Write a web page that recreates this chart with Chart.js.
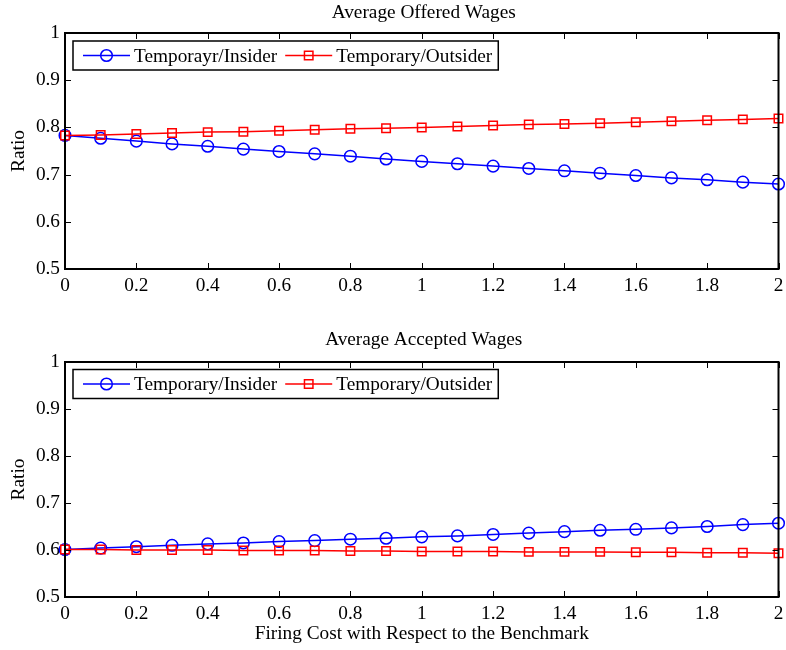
<!DOCTYPE html>
<html>
<head>
<meta charset="utf-8">
<title>Average Offered and Accepted Wages</title>
<script src="https://cdn.jsdelivr.net/npm/chart.js@4.4.1/dist/chart.umd.min.js"></script>
<style>
  html, body { margin: 0; padding: 0; background: #fff; }
  #wrap { width: 786px; height: 650px; position: relative; }
  .pane { position: absolute; left: 0; width: 786px; height: 325px; }
  #pane-top { top: 0; }
  #pane-bottom { top: 325px; }
</style>
</head>
<body>
<div id="wrap">
  <div class="pane" id="pane-top"><canvas id="offeredChart" width="786" height="325"></canvas></div>
  <div class="pane" id="pane-bottom"><canvas id="acceptedChart" width="786" height="325"></canvas></div>
</div>
<script>
// firing cost relative to the benchmark (x axis)
const firingCost = [0, 0.1, 0.2, 0.3, 0.4, 0.5, 0.6, 0.7, 0.8, 0.9, 1.0,
                    1.1, 1.2, 1.3, 1.4, 1.5, 1.6, 1.7, 1.8, 1.9, 2.0];

// average offered wages
const offeredInsider  = [0.783, 0.777, 0.771, 0.765, 0.760, 0.754, 0.749, 0.744, 0.739, 0.733, 0.728,
                         0.723, 0.718, 0.713, 0.708, 0.703, 0.698, 0.693, 0.689, 0.684, 0.680];
const offeredOutsider = [0.783, 0.784, 0.786, 0.788, 0.790, 0.791, 0.793, 0.795, 0.797, 0.798, 0.800,
                         0.802, 0.804, 0.806, 0.807, 0.809, 0.811, 0.813, 0.815, 0.817, 0.819];

// average accepted wages
const acceptedInsider  = [0.601, 0.604, 0.607, 0.610, 0.613, 0.615, 0.618, 0.620, 0.623, 0.625, 0.628,
                          0.630, 0.633, 0.636, 0.639, 0.642, 0.644, 0.647, 0.650, 0.654, 0.657];
const acceptedOutsider = [0.601, 0.601, 0.600, 0.600, 0.600, 0.599, 0.599, 0.599, 0.598, 0.598, 0.597,
                          0.597, 0.597, 0.596, 0.596, 0.596, 0.595, 0.595, 0.594, 0.594, 0.593];

const xTicks = [0, 0.2, 0.4, 0.6, 0.8, 1, 1.2, 1.4, 1.6, 1.8, 2];
const yTicks = [0.5, 0.6, 0.7, 0.8, 0.9, 1];

const serif = '"Liberation Serif", "Times New Roman", serif';
const FS = 19.3;
const BLUE = '#0000ff', RED = '#ff0000';

const pts = ys => firingCost.map((x, i) => ({x, y: ys[i]}));
const fmt = v => String(+(+v).toFixed(1));

// MATLAB-like box: full frame + inward ticks on all four sides
const boxPlugin = {
  id: 'matBox',
  afterDatasetsDraw(chart){
    const {ctx, chartArea: a, scales: {x, y}} = chart;
    const tl = 6;
    ctx.save();
    ctx.strokeStyle = '#000';
    ctx.lineWidth = 1;
    ctx.beginPath();
    xTicks.forEach(v => {
      const px = Math.round(x.getPixelForValue(v)) + 0.5;
      ctx.moveTo(px, a.bottom); ctx.lineTo(px, a.bottom - tl);
      ctx.moveTo(px, a.top); ctx.lineTo(px, a.top + tl);
    });
    yTicks.forEach(v => {
      const py = Math.round(y.getPixelForValue(v)) + 0.5;
      ctx.moveTo(a.left, py); ctx.lineTo(a.left + tl, py);
      ctx.moveTo(a.right, py); ctx.lineTo(a.right - tl, py);
    });
    ctx.stroke();
    ctx.lineWidth = 2;
    ctx.strokeRect(a.left, a.top, a.right - a.left, a.bottom - a.top);
    ctx.restore();
  }
};

// title text above the plot area
const headPlugin = {
  id: 'matTitle',
  afterDraw(chart, args, opts){
    const {ctx, chartArea: a} = chart;
    ctx.save();
    ctx.fillStyle = '#000';
    ctx.font = `${opts.size}px ${serif}`;
    ctx.textAlign = 'center';
    ctx.textBaseline = 'middle';
    ctx.fillText(opts.text, (a.left + a.right) / 2 + 2, opts.y);
    ctx.restore();
  }
};

// legend box in the upper-left corner, line + marker samples
const keyPlugin = {
  id: 'matKey',
  afterDraw(chart, args, opts){
    const {ctx, chartArea: a} = chart;
    const size = opts.size;
    ctx.save();
    ctx.font = `${size}px ${serif}`;
    const left = a.left + 8, top = a.top + opts.dy, h = 29;
    let cx = left + 10;
    const items = chart.data.datasets.map(ds => {
      const it = {ds, x: cx, w: ctx.measureText(ds.label).width};
      cx += 51 + it.w + 8;
      return it;
    });
    const right = cx - 2;
    ctx.fillStyle = '#fff';
    ctx.fillRect(left, top, right - left, h);
    ctx.strokeStyle = '#000';
    ctx.lineWidth = 1.5;
    ctx.strokeRect(left, top, right - left, h);
    const my = top + h / 2;
    items.forEach(it => {
      const ds = it.ds;
      ctx.strokeStyle = ds.borderColor;
      ctx.lineWidth = ds.borderWidth;
      ctx.beginPath();
      ctx.moveTo(it.x, my); ctx.lineTo(it.x + 47, my);
      ctx.stroke();
      const mx = it.x + 23.5;
      ctx.beginPath();
      if (ds.pointStyle === 'rect') {
        const s = Math.SQRT1_2 * ds.pointRadius;
        ctx.rect(mx - s, my - s, 2 * s, 2 * s);
      } else {
        ctx.arc(mx, my, ds.pointRadius, 0, Math.PI * 2);
      }
      ctx.lineWidth = ds.pointBorderWidth;
      ctx.stroke();
      ctx.fillStyle = '#000';
      ctx.textAlign = 'left';
      ctx.textBaseline = 'middle';
      ctx.fillText(ds.label, it.x + 51, my + 1);
    });
    ctx.restore();
  }
};

function series(label, data, color, style){
  return {
    label, data,
    borderColor: color, borderWidth: 1.5,
    pointStyle: style, pointRadius: style === 'rect' ? 6 : 5.8, pointBorderWidth: 1.5,
    pointBorderColor: color, pointBackgroundColor: 'rgba(0,0,0,0)',
    pointHoverRadius: 6, tension: 0, clip: false,
    order: style === 'rect' ? 1 : 2
  };
}

function makeChart(id, cfg){
  const tickFont = {family: serif, size: FS};
  return new Chart(document.getElementById(id), {
    type: 'line',
    data: {datasets: [
      series(cfg.labels[0], pts(cfg.insider), BLUE, 'circle'),
      series(cfg.labels[1], pts(cfg.outsider), RED, 'rect')
    ]},
    options: {
      responsive: false,
      animation: false,
      events: [],
      layout: {padding: {top: cfg.top, right: 6, left: 0, bottom: 0}},
      plugins: {
        legend: {display: false},
        tooltip: {enabled: false},
        matTitle: {text: cfg.title, y: cfg.titleY, size: FS},
        matKey: {size: FS, dy: cfg.keyDy}
      },
      scales: {
        x: {
          type: 'linear', min: 0, max: 2,
          afterFit: s => { s.height = cfg.xh; s.paddingLeft = 0; s.paddingRight = 0; },
          afterBuildTicks: s => { s.ticks = xTicks.map(v => ({value: v})); },
          grid: {display: false, drawTicks: false},
          border: {display: false},
          ticks: {color: '#000', font: tickFont, padding: 5, maxRotation: 0, autoSkip: false, callback: fmt},
          title: {display: !!cfg.xTitle, text: cfg.xTitle || '', color: '#000', font: {family: serif, size: FS}, padding: {bottom: 4}}
        },
        y: {
          min: 0.5, max: 1,
          afterFit: s => { s.width = 65; s.paddingTop = 0; s.paddingBottom = 0; },
          afterBuildTicks: s => { s.ticks = yTicks.map(v => ({value: v})); },
          grid: {display: false, drawTicks: false},
          border: {display: false},
          ticks: {color: '#000', font: tickFont, padding: 5, callback: fmt},
          title: {display: true, text: 'Ratio', color: '#000', font: {family: serif, size: FS}, padding: {top: 7}}
        }
      }
    },
    plugins: [boxPlugin, headPlugin, keyPlugin]
  });
}

makeChart('offeredChart', {
  title: 'Average Offered Wages', titleY: 13,
  labels: ['Temporayr/Insider', 'Temporary/Outsider'],
  insider: offeredInsider, outsider: offeredOutsider,
  top: 33, xh: 56, keyDy: 8
});

makeChart('acceptedChart', {
  title: 'Average Accepted Wages', titleY: 15,
  labels: ['Temporary/Insider', 'Temporary/Outsider'],
  insider: acceptedInsider, outsider: acceptedOutsider,
  top: 37, xh: 53, keyDy: 7.5,
  xTitle: 'Firing Cost with Respect to the Benchmark'
});
</script>
</body>
</html>
